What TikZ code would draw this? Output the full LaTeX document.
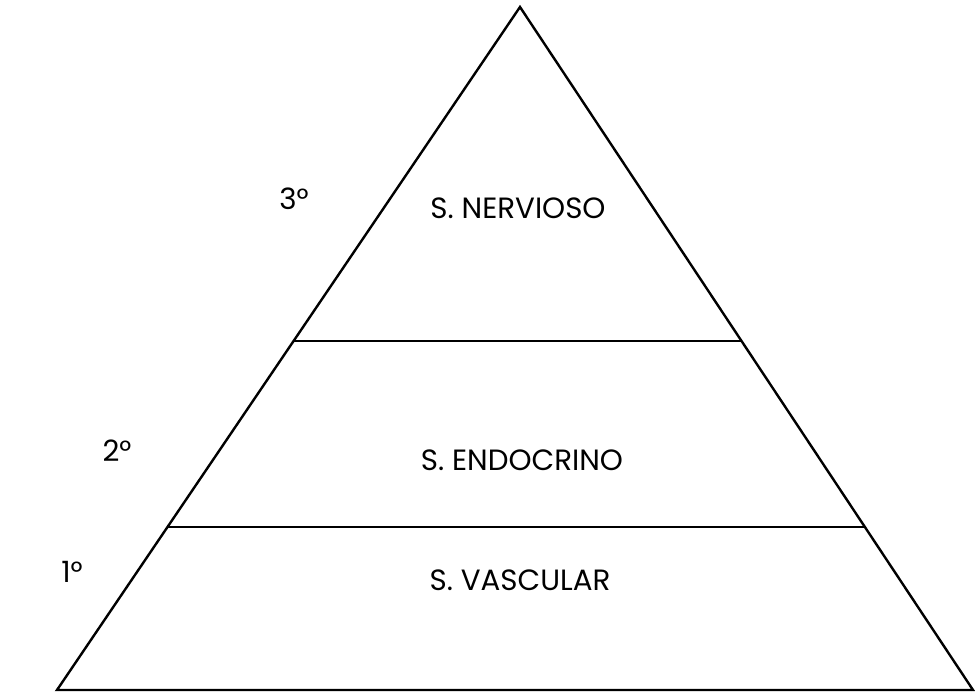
\documentclass[tikz,border=0pt]{standalone}
\usepackage{fontspec}
\setmainfont{Poppins}
\usepackage{tikz}
\usetikzlibrary{calc}

\begin{document}
\begin{tikzpicture}[
  x=0.75pt, y=-0.75pt,
  every node/.style={font=\fontsize{22}{26}\selectfont},
  edge/.style={line width=1.8pt, line join=miter},
  tier/.style={line width=1.5pt}
]
\useasboundingbox (0,0) rectangle (975,698);

% ── Pyramid outline ──────────────────────────────────────────────────────
\coordinate (apex) at (520,7);
\coordinate (bl) at (57,690);
\coordinate (br) at (973,690);
\draw[edge] (bl) -- (apex) -- (br) -- cycle;

% ── Tier boundaries ──────────────────────────────────────────────────────
\draw[tier] ($(apex)!0.489!(bl)$) coordinate (t1l) -- ($(apex)!0.489!(br)$) coordinate (t1r);
\draw[tier] ($(apex)!0.761!(bl)$) coordinate (t2l) -- ($(apex)!0.761!(br)$) coordinate (t2r);

% ── Systems ──────────────────────────────────────────────────────────────
\node (nervioso)  at (518,208) {S. NERVIOSO};
\node (endocrino) at (522,460) {S. ENDOCRINO};
\node (vascular)  at (520,580) {S. VASCULAR};

% ── Levels ───────────────────────────────────────────────────────────────
\node (lvl3) at (294,199) {3°};
\node (lvl2) at (117,451) {2°};
\node (lvl1) at (72,572) {1°};

\end{tikzpicture}
\end{document}
